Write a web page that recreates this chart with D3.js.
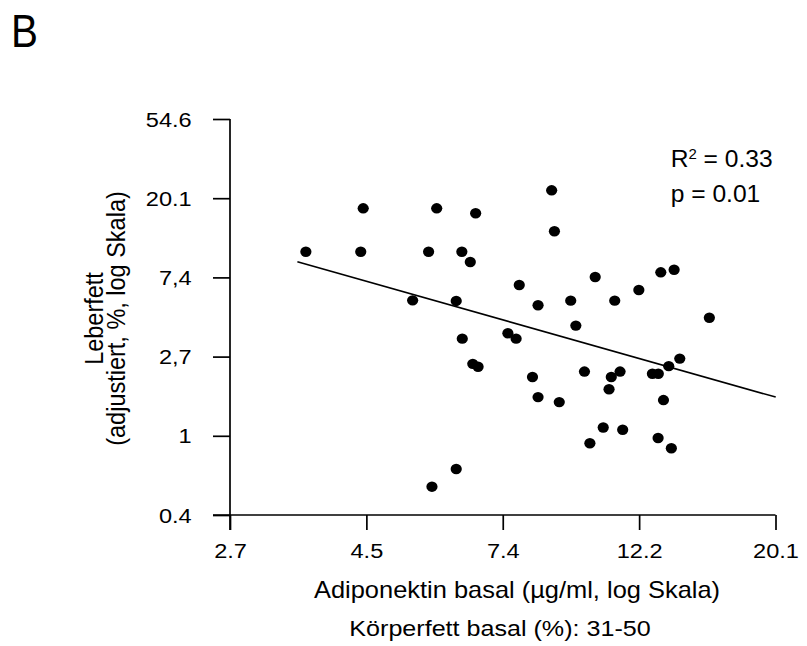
<!DOCTYPE html>
<html><head><meta charset="utf-8">
<script src="https://cdn.jsdelivr.net/npm/d3@7"></script>
<style>
body{margin:0;background:#fff}
text{font-family:"Liberation Sans",Arial,Helvetica,sans-serif;fill:#000}
</style>
</head><body>
<svg id="c" width="807" height="646"></svg>
<script>
// Adiponektin basal (µg/ml) and Leberfett (%) per subject
const adiponektin = [3.59,4.39,4.43,5.31,5.63,5.80,6.23,6.36,6.37,6.56,6.62,6.69,6.75,6.23,5.70,
  7.53,7.76,7.85,8.24,8.41,8.41,8.84,8.93,9.09,9.48,9.66,9.97,10.17,10.37,10.68,10.91,11.00,
  11.14,11.36,11.47,12.17,12.79,13.07,13.06,13.19,13.32,13.58,13.71,13.85,14.14,15.76];
const leberfett = [10.22,10.22,17.68,5.53,10.22,17.68,5.49,10.22,3.41,8.98,2.48,16.60,2.39,0.658,0.526,
  3.65,3.41,6.71,2.10,5.20,1.63,22.19,13.23,1.53,5.51,4.02,2.25,0.91,7.43,1.11,1.80,2.10,
  5.51,2.25,1.08,6.30,2.19,2.19,0.973,7.88,1.57,2.41,0.854,8.14,2.65,4.44];
// regression line end points
const fitX = [3.48, 20.1];
const fitY = [9.0, 1.63];
// ticks (natural-log spaced)
const xTickExp = [1, 1.5, 2, 2.5, 3];
const xTickLabels = ["2.7","4.5","7.4","12.2","20.1"];
const yTickExp = [-1, 0, 1, 2, 3, 4];
const yTickLabels = ["0.4","1","2,7","7,4","20.1","54.6"];

const svg = d3.select("#c");
const X0 = 230, X1 = 775.5, Y0 = 515, Y1 = 119;
const x = d3.scaleLog().domain([Math.exp(1), Math.exp(3)]).range([X0, X1]);
const y = d3.scaleLog().domain([Math.exp(-1), Math.exp(4)]).range([Y0, Y1]);
const SX = 1.15;

// panel letter
svg.append("text").attr("transform","translate(11,47) scale(0.86,1)")
  .style("font-size","47px").text("B");

// axes
const ax = svg.append("g").attr("transform",`translate(0,${Y0})`)
  .call(d3.axisBottom(x).tickValues(xTickExp.map(Math.exp))
    .tickFormat((d,i)=>xTickLabels[i]).tickSize(15).tickSizeOuter(0));
ax.select(".domain").remove();
ax.selectAll("line").attr("stroke","#000").attr("stroke-width",1.7);
ax.selectAll("text").attr("y",43).attr("dy",0)
  .attr("transform",`scale(${SX},1)`).style("font-size","20.5px")
  .style("font-family",'"Liberation Sans",Arial,sans-serif');

const ay = svg.append("g").attr("transform",`translate(${X0},0)`)
  .call(d3.axisLeft(y).tickValues(yTickExp.map(Math.exp))
    .tickFormat((d,i)=>yTickLabels[i]).tickSize(17).tickSizeOuter(0));
ay.select(".domain").remove();
ay.selectAll("line").attr("stroke","#000").attr("stroke-width",1.7);
ay.selectAll("text").attr("x",-38.3/SX).attr("dy","0.35em")
  .attr("transform",`scale(${SX},1)`).style("font-size","20.5px")
  .style("font-family",'"Liberation Sans",Arial,sans-serif');

// axis lines
svg.append("line").attr("x1",X0).attr("x2",X0).attr("y1",Y1).attr("y2",Y0+15)
  .attr("stroke","#000").attr("stroke-width",1.7);
svg.append("line").attr("x1",X0-17).attr("x2",X1).attr("y1",Y0).attr("y2",Y0)
  .attr("stroke","#000").attr("stroke-width",1.7);

// regression line
svg.append("line").attr("x1",x(fitX[0])).attr("y1",y(fitY[0]))
  .attr("x2",x(fitX[1])).attr("y2",y(fitY[1]))
  .attr("stroke","#000").attr("stroke-width",1.6);

// points
svg.append("g").selectAll("ellipse").data(adiponektin).join("ellipse")
  .attr("cx",(d)=>x(d)).attr("cy",(d,i)=>y(leberfett[i]))
  .attr("rx",5.6).attr("ry",5.2).attr("fill","#000");

// axis titles
svg.append("text").attr("transform","translate(517,598) scale(1.106,1)")
  .attr("text-anchor","middle").style("font-size","23px")
  .text("Adiponektin basal (µg/ml, log Skala)");
svg.append("text").attr("transform","translate(500,636) scale(1.126,1)")
  .attr("text-anchor","middle").style("font-size","22.3px")
  .text("Körperfett basal (%): 31-50");

const yt = svg.append("g").attr("transform","translate(0,318.5) rotate(-90)");
yt.append("text").attr("transform","translate(0,102.5) scale(1,1.1)")
  .attr("text-anchor","middle").style("font-size","23.5px").text("Leberfett");
yt.append("text").attr("transform","translate(0,124.5) scale(1,1.1)")
  .attr("text-anchor","middle").style("font-size","23.5px").text("(adjustiert, %, log Skala)");

// statistics
const r2 = svg.append("text").attr("transform","translate(670.7,166.7) scale(1.07,1)")
  .style("font-size","23px");
r2.append("tspan").text("R");
r2.append("tspan").attr("dy",-8).style("font-size","14px").text("2");
r2.append("tspan").attr("dy",8).text(" = 0.33");
svg.append("text").attr("transform","translate(670.7,201.7) scale(1.07,1)")
  .style("font-size","23px").text("p = 0.01");
</script>
</body></html>
